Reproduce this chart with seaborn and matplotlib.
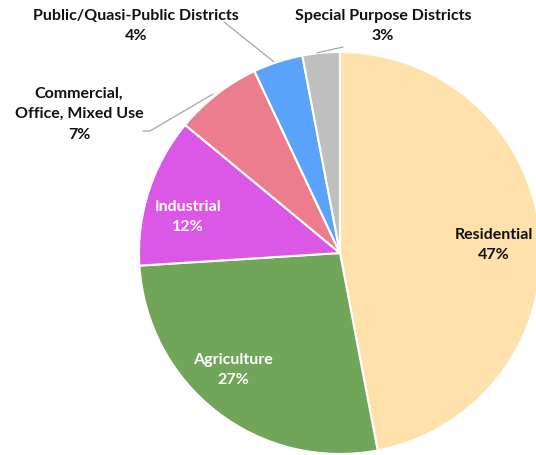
"""
Land use share pie chart (zoning categories)
"""

import numpy as np
import matplotlib
matplotlib.use("Agg")
import matplotlib.pyplot as plt
import seaborn as sns

# Data
categories = ['Residential', 'Agriculture', 'Industrial',
              'Commercial,\nOffice, Mixed Use', 'Public/Quasi-Public Districts',
              'Special Purpose Districts']
shares = [47, 27, 12, 7, 4, 3]
colors = ['#FFE1AB', '#70A55A', '#DB57E6', '#EB7D8D', '#59A3FA', '#BFBFBF']
text_colors = ['#111111', 'white', 'white', '#111111', '#111111', '#111111']

# Layout (pixel coords, y from top)
W, H = 536, 455
center_px = (340, 253)
radius = 201
label_pos = {
    'Residential': (494, 245),
    'Agriculture': (233, 370),
    'Industrial': (188, 217),
    'Commercial,\nOffice, Mixed Use': (79, 114),
    'Public/Quasi-Public Districts': (136, 26),
    'Special Purpose Districts': (383, 26),
}
# where the leader line leaves the label
leader_start = {
    'Commercial,\nOffice, Mixed Use': [(143, 131), (150, 131)],
    'Public/Quasi-Public Districts': [(224, 22)],
    'Special Purpose Districts': [(343, 47)],
}

sns.set_theme(style='white')
plt.rcParams['font.family'] = ['Lato', 'DejaVu Sans']

fig = plt.figure(figsize=(W / 100, H / 100), dpi=100)
ax = fig.add_axes([0, 0, 1, 1])

cx, cy = center_px[0], H - center_px[1]
wedges, _ = ax.pie(shares, colors=colors, startangle=90, counterclock=False,
                   center=(cx, cy), radius=radius,
                   wedgeprops=dict(edgecolor='white', linewidth=1.5))

ax.set_xlim(0, W)
ax.set_ylim(0, H)
ax.set_aspect('equal')
ax.axis('off')

for wedge, cat, share, tc in zip(wedges, categories, shares, text_colors):
    px, py = label_pos[cat]
    ax.text(px, H - py, f'{cat}\n{share}%', ha='center', va='center',
            fontsize=11.5, fontweight='bold', color=tc, linespacing=1.6)
    if cat in leader_start:
        mid = np.deg2rad((wedge.theta1 + wedge.theta2) / 2)
        ex = cx + radius * np.cos(mid) - 4
        ey = cy + radius * np.sin(mid)
        pts = [(x, H - y) for x, y in leader_start[cat]] + [(ex, ey)]
        xs, ys = zip(*pts)
        ax.plot(xs, ys, color='#A6A6A6', linewidth=0.9)

plt.savefig('out.png', dpi=100)
plt.close()
